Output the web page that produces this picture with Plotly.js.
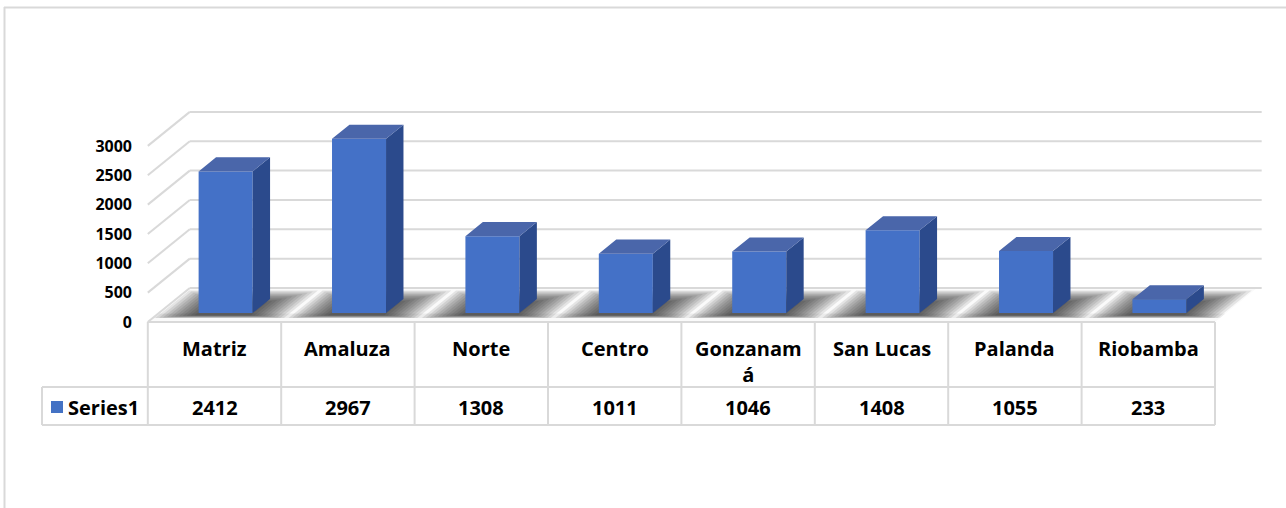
<!DOCTYPE html>
<html>
<head>
<meta charset="utf-8">
<script src="https://cdn.plot.ly/plotly-3.0.1.min.js"></script>
<style>html,body{margin:0;padding:0;background:#fff;}#chart{width:1286px;height:508px;}</style>
</head>
<body>
<div id="chart"></div>
<script>
// ---- data ----
const categories = ['Matriz', 'Amaluza', 'Norte', 'Centro', 'Gonzanamá', 'San Lucas', 'Palanda', 'Riobamba'];
const values = [2412, 2967, 1308, 1011, 1046, 1408, 1055, 233];
const tickValues = [0, 500, 1000, 1500, 2000, 2500, 3000];
const tickLabels = ['0', '500', '1000', '1500', '2000', '2500', '3000'];
const seriesName = 'Series1';

// ---- geometry (pixel model of the pseudo-3D view) ----
const W = 1286, H = 508;
const colPx = 133.4, col0Px = 214.5;      // column width, centre of first column
const pxPerUnit = 0.0587, zeroPx = 322;   // value scale on the front plane
const xFromPx = p => (p - col0Px) / colPx;
const yFromPx = p => (zeroPx - p) / pxPerUnit;
const py = p => 1 - p / H;                 // paper y from pixel
const DX = 42 / colPx, DY = 34 / pxPerUnit; // full floor depth offset
const f1 = 0.265, f2 = 0.68;               // bar front/back depth
const bw = 0.405;                          // bar width (category units)
const n = categories.length;
const xL = -0.5, xR = n - 0.5;
const P = (x, y) => x + ',' + y;
const poly = pts => 'M' + pts.map(p => P(p[0], p[1])).join('L') + 'Z';
const grid = '#d9d9d9';

const shapes = [];
// outer frame
shapes.push({type:'line', xref:'paper', yref:'paper', x0:4/W, x1:1, y0:py(7.5), y1:py(7.5), line:{color:grid, width:2}});
shapes.push({type:'line', xref:'paper', yref:'paper', x0:4.5/W, x1:4.5/W, y0:py(7), y1:0, line:{color:grid, width:2}});

// floor
shapes.push({type:'path', xref:'x', yref:'y', layer:'below', line:{width:0},
  fillcolor:'#fafafa', path: poly([[xL,0],[xR,0],[xR+DX,DY],[xL+DX,DY]])});
// slightly shaded front rim of the floor
shapes.push({type:'path', xref:'x', yref:'y', layer:'below', line:{width:0},
  fillcolor:'rgba(0,0,0,0.06)', path: poly([[xL+0.12*DX,0.12*DY],[xR+0.12*DX,0.12*DY],[xR+0.25*DX,0.25*DY],[xL+0.25*DX,0.25*DY]])});

// shadows on floor (many thin layers to fake a blur)
const nLayers = 11;
values.forEach((v, i) => {
  for (let k = 0; k < nLayers; k++) {
    const e = 0.27 * (1 - k / (nLayers - 1)) + 0.01;
    const fa = 0.12 + 0.008 * k, fb = 0.93 - 0.035 * k;
    const a = i - bw/2 - e, b = i + bw/2 + e;
    shapes.push({type:'path', xref:'x', yref:'y', layer:'below', line:{width:0},
      fillcolor:'rgba(25,25,25,0.095)',
      path: poly([[a+fa*DX, fa*DY],[b+fa*DX, fa*DY],[b+fb*DX, fb*DY],[a+fb*DX, fb*DY]])});
  }
});

// back wall gridlines and side wall lines
tickValues.forEach(t => {
  shapes.push({type:'line', xref:'x', yref:'y', layer:'below', x0:xL+DX, x1:xR+DX+0.035, y0:t+DY, y1:t+DY, line:{color:grid, width:2}});
  shapes.push({type:'line', xref:'x', yref:'y', layer:'below', x0:xL, x1:xL+DX, y0:t, y1:t+DY, line:{color:grid, width:2}});
});

// data table lines
const tTop = 322, tMid = 387, tBot = 425;
const keyLeft = xFromPx(42);
for (let i = 0; i <= n; i++) {
  shapes.push({type:'line', xref:'x', yref:'paper', x0:i-0.5, x1:i-0.5, y0:py(tTop), y1:py(tBot), line:{color:grid, width:2}});
}
shapes.push({type:'line', xref:'x', yref:'paper', x0:xL, x1:xR, y0:py(tTop), y1:py(tTop), line:{color:grid, width:2}});
[tMid, tBot].forEach(r => shapes.push({type:'line', xref:'x', yref:'paper', x0:keyLeft, x1:xR, y0:py(r), y1:py(r), line:{color:grid, width:2}}));
shapes.push({type:'line', xref:'x', yref:'paper', x0:keyLeft, x1:keyLeft, y0:py(tMid), y1:py(tBot), line:{color:grid, width:2}});
// legend key
shapes.push({type:'rect', xref:'x', yref:'paper', x0:xFromPx(51), x1:xFromPx(63), y0:py(413), y1:py(401), fillcolor:'#4472c4', line:{width:0}});

// annotations: table text
const wrap = s => (s.indexOf(' ') < 0 && s.length > 8) ? s.slice(0, 8) + '<br>' + s.slice(8) : s;
const font = {family:'Open Sans, Noto Sans, sans-serif', size:20, color:'#000', weight:700};
const annotations = [];
categories.forEach((c, i) => {
  annotations.push({xref:'x', yref:'paper', x:i, y:py(333), yanchor:'top', xanchor:'center', showarrow:false, text:wrap(c), font:font});
  annotations.push({xref:'x', yref:'paper', x:i, y:py(407), yanchor:'middle', xanchor:'center', showarrow:false, text:String(values[i]), font:font});
});
annotations.push({xref:'x', yref:'paper', x:xFromPx(66), y:py(407), yanchor:'middle', xanchor:'left', showarrow:false, text:seriesName, font:font});

// ---- traces ----
const frontTrace = {
  type:'bar', name:seriesName, x: values.map((v, i) => i + f1*DX), y: values,
  base: values.map(() => f1*DY), width: bw,
  marker:{color:'#4471c7', line:{width:0}}, showlegend:false, hoverinfo:'skip'
};
const sideX = [], sideY = [], topX = [], topY = [];
values.forEach((v, i) => {
  const a = i - bw/2, b = i + bw/2;
  sideX.push(b+f1*DX, b+f1*DX, b+f2*DX, b+f2*DX, b+f1*DX, null);
  sideY.push(f1*DY, v+f1*DY, v+f2*DY, f2*DY, f1*DY, null);
  topX.push(a+f1*DX, b+f1*DX, b+f2*DX, a+f2*DX, a+f1*DX, null);
  topY.push(v+f1*DY, v+f1*DY, v+f2*DY, v+f2*DY, v+f1*DY, null);
});
const sideTrace = {type:'scatter', mode:'lines', x:sideX, y:sideY, fill:'toself', fillcolor:'#2b4a8c', line:{width:0}, showlegend:false, hoverinfo:'skip'};
const topTrace = {type:'scatter', mode:'lines', x:topX, y:topY, fill:'toself', fillcolor:'#4a66aa', line:{width:0}, showlegend:false, hoverinfo:'skip'};

const layout = {
  width:W, height:H, margin:{l:0, r:0, t:0, b:0},
  paper_bgcolor:'#fff', plot_bgcolor:'rgba(0,0,0,0)', showlegend:false,
  xaxis:{range:[xFromPx(0), xFromPx(W)], visible:false, fixedrange:true},
  yaxis:{range:[yFromPx(H), yFromPx(0)], anchor:'free', position:148/W, side:'left',
    tickvals:tickValues, ticktext:tickLabels, showgrid:false, zeroline:false, showline:false,
    ticks:'', ticklabelstandoff:16,
    tickfont:{family:'Open Sans, Noto Sans, sans-serif', size:16, color:'#000', weight:700}},
  shapes:shapes, annotations:annotations
};
Plotly.newPlot('chart', [frontTrace, sideTrace, topTrace], layout, {displayModeBar:false, staticPlot:true});
</script>
</body>
</html>
